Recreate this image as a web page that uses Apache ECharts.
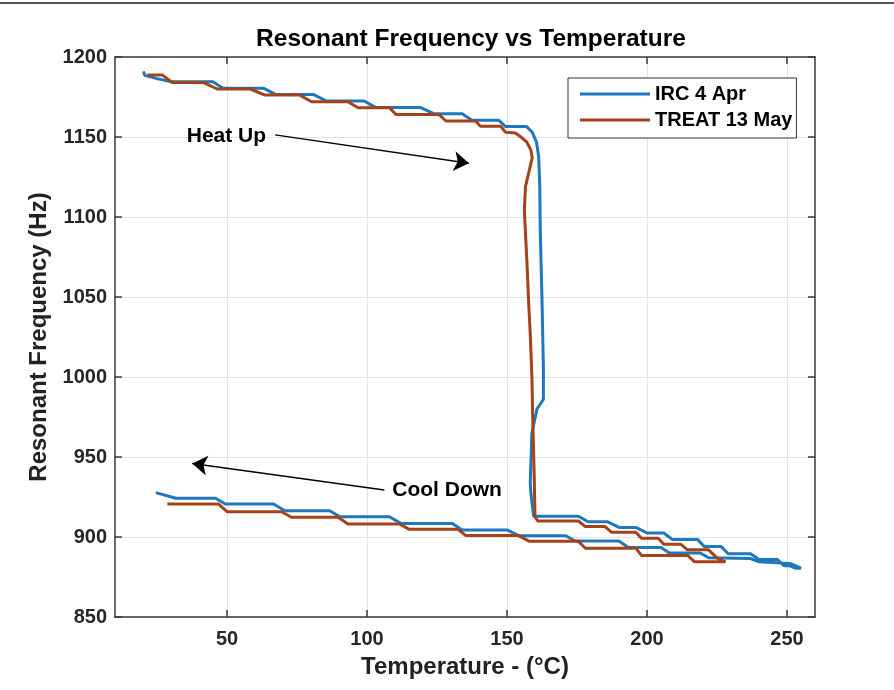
<!DOCTYPE html>
<html><head><meta charset="utf-8">
<script src="https://cdn.jsdelivr.net/npm/echarts@6/dist/echarts.min.js"></script>
<style>html,body{margin:0;padding:0;background:#fff}#c{width:894px;height:690px}</style>
</head><body><div id="c"></div>
<script>
const chartTitle = 'Resonant Frequency vs Temperature';
const xName = 'Temperature - (\u00B0C)';
const yName = 'Resonant Frequency (Hz)';
const seriesNames = ['IRC 4 Apr', 'TREAT 13 May'];
const xTicks = [50, 100, 150, 200, 250];
const yTicks = [850, 900, 950, 1000, 1050, 1100, 1150, 1200];

const ircTemp = [20.2,20.6,25,30,45,48.5,63,67.5,81,85.5,99,103,119,124,134,137.5,147,149.5,157,159,160.5,161.3,161.7,161.9,162.5,163,163,160.7,158.9,158.3,158.5,159.5,
  175.5,179,186,190,196,200,206,209,218,220.5,226.5,229,237,240,246.5,249,251,253,255,
  251,240,237,222,219,208,205,193.3,190,174.3,171,154.2,150,134,130.5,112.1,108,90.3,86.7,70.7,66.6,49.4,45.9,31.7,24.6];
const ircFreq = [1191,1188.5,1186.5,1184.5,1184.5,1180.5,1180.5,1176.5,1176.5,1172.5,1172.5,1168.5,1168.5,1164.5,1164.5,1160.5,1160.5,1156.5,1156.5,1153,1147,1138,1120,1090,1048,1006,986,980,965,934,928,913,
  913,909.5,909.5,906,906,902.5,902.5,898.5,898.5,894,894,889.5,889.5,886,886,882,882,880.5,880.5,
  883.5,884.5,886.5,887,890,890,893.5,893.5,897.5,897.5,900.8,900.8,904.4,904.4,908.5,908.5,912.7,912.7,916.4,916.4,920.6,920.6,924.2,924.2,927.7];

const treatTemp = [21.6,27,30.5,41.7,46.5,58.3,63.6,76,80.2,93.2,96.8,108,110.4,125.8,128.2,138.8,140.5,147.7,149.5,153,155,157,158.5,159,156.6,156.2,157.2,157.7,158.3,158.9,159.2,159.7,160,
  161,175.5,178,185,187.3,196,198,204,206,212,214.5,222,225,228,
  217,214.5,198,196,178,175.5,158,154,135.2,132.5,115.1,111.6,93.2,89.7,73,69.5,50,47,28.7];
const treatFreq = [1188.7,1188.7,1184,1184,1180,1180,1176.2,1176.2,1172,1172,1168.3,1168.3,1164,1164,1160,1160,1156.7,1156.7,1153,1152.5,1150,1147,1142,1137,1119,1104,1069,1048,1027,1000,973,940,912.5,
  910,910,906.5,906.5,903,903,899.2,899.2,895.5,895.5,892,892,887,884.5,
  884.5,888.5,888.5,893,893,897.3,897.3,901,901,904.8,904.8,908.1,908.1,912.3,912.3,915.8,915.8,920.6,920.6];

const annotText = ['Heat Up', 'Cool Down'];
const annotAt = [[49.8, 1150.6], [128.6, 929.4]];
const arrowFrom = [[67.2, 1151.3], [106.2, 929.4]];
const arrowTo = [[136.4, 1133.6], [37.6, 945.9]];

const colors = ['#1f77bd', '#a4431a'];
const FONT = '"Liberation Sans", Arial, Helvetica, sans-serif';
const axisCol = '#3a3a3a';

function zip(a, b) { return a.map((v, i) => [v, b[i]]); }

const chart = echarts.init(document.getElementById('c'), null, {renderer: 'canvas'});
const xMin = 10, xMax = 260, yMin = yTicks[0], yMax = yTicks[yTicks.length - 1];

const option = {
  backgroundColor: '#ffffff',
  animation: false,
  title: {
    text: chartTitle, left: 466, top: 22, textAlign: 'center',
    textStyle: {fontFamily: FONT, fontWeight: 'bold', fontSize: 24.5, color: '#000'}
  },
  grid: {left: 115, right: 79, top: 57, bottom: 73, containLabel: false},
  legend: {
    data: seriesNames, orient: 'vertical', left: 568, top: 78,
    icon: 'rect', itemWidth: 70, itemHeight: 3, itemGap: 6,
    padding: [6, 4, 8, 12],
    borderColor: '#333', borderWidth: 1, backgroundColor: '#fff',
    textStyle: {fontFamily: FONT, fontWeight: 'bold', fontSize: 20, color: '#000'}
  },
  xAxis: [{
    type: 'value', min: xMin, max: xMax, position: 'bottom',
    name: xName, nameLocation: 'middle', nameGap: 38,
    nameTextStyle: {fontFamily: FONT, fontWeight: 'bold', fontSize: 24, color: '#222'},
    axisLine: {show: true, onZero: false, lineStyle: {color: axisCol, width: 1.5}},
    axisTick: {show: true, inside: true, length: 7, customValues: xTicks, lineStyle: {color: axisCol, width: 1.5}},
    axisLabel: {customValues: xTicks, margin: 12, fontFamily: FONT, fontWeight: 'bold', fontSize: 20, color: '#262626',
      formatter: v => String(v)},
    splitLine: {show: true, lineStyle: {color: '#e3e3e3', width: 1}}
  }, {
    type: 'value', min: xMin, max: xMax, position: 'top',
    axisLine: {show: true, onZero: false, lineStyle: {color: axisCol, width: 1.5}},
    axisTick: {show: true, inside: true, length: 7, customValues: xTicks, lineStyle: {color: axisCol, width: 1.5}},
    axisLabel: {show: false, customValues: xTicks},
    splitLine: {show: false}
  }],
  yAxis: [{
    type: 'value', min: yMin, max: yMax, interval: 50, position: 'left',
    name: yName, nameLocation: 'middle', nameGap: 57,
    nameTextStyle: {fontFamily: FONT, fontWeight: 'bold', fontSize: 24, color: '#222'},
    axisLine: {show: true, onZero: false, lineStyle: {color: axisCol, width: 1.5}},
    axisTick: {show: true, inside: true, length: 7, lineStyle: {color: axisCol, width: 1.5}},
    axisLabel: {margin: 8, fontFamily: FONT, fontWeight: 'bold', fontSize: 20, color: '#262626',
      formatter: v => String(v)},
    splitLine: {show: true, lineStyle: {color: '#e3e3e3', width: 1}}
  }, {
    type: 'value', min: yMin, max: yMax, interval: 50, position: 'right',
    axisLine: {show: true, onZero: false, lineStyle: {color: axisCol, width: 1.5}},
    axisTick: {show: true, inside: true, length: 7, lineStyle: {color: axisCol, width: 1.5}},
    axisLabel: {show: false},
    splitLine: {show: false}
  }],
  series: [
    {
      name: seriesNames[0], type: 'line', xAxisIndex: 0, yAxisIndex: 0,
      data: zip(ircTemp, ircFreq), showSymbol: false, symbol: 'none',
      lineStyle: {color: colors[0], width: 3}, itemStyle: {color: colors[0]}, z: 3
    },
    {
      name: seriesNames[1], type: 'line', xAxisIndex: 0, yAxisIndex: 0,
      data: zip(treatTemp, treatFreq), showSymbol: false, symbol: 'none',
      lineStyle: {color: colors[1], width: 3}, itemStyle: {color: colors[1]}, z: 4
    },
    {
      name: 'annotations', type: 'scatter', xAxisIndex: 0, yAxisIndex: 0,
      symbol: 'circle', symbolSize: 1, itemStyle: {color: '#ffffff', opacity: 1}, silent: true, z: 6,
      data: annotAt.map((p, i) => ({value: p, name: annotText[i]})),
      label: {show: true, position: 'inside', formatter: p => p.name, opacity: 1,
        textBorderWidth: 0, textShadowBlur: 0,
        fontFamily: FONT, fontWeight: 'bold', fontSize: 21, color: '#000'},
      markLine: {
        silent: true, animation: false,
        symbol: ['none', 'arrow'], symbolSize: 15,
        label: {show: false},
        lineStyle: {color: '#000', width: 1.4, type: 'solid'},
        emphasis: {disabled: true},
        data: arrowFrom.map((p, i) => [{coord: p}, {coord: arrowTo[i]}])
      }
    }
  ],
  graphic: [{
    type: 'rect', shape: {x: 0, y: 2, width: 894, height: 2}, style: {fill: '#555'}, silent: true
  }]
};
chart.setOption(option);
</script>
</body></html>
